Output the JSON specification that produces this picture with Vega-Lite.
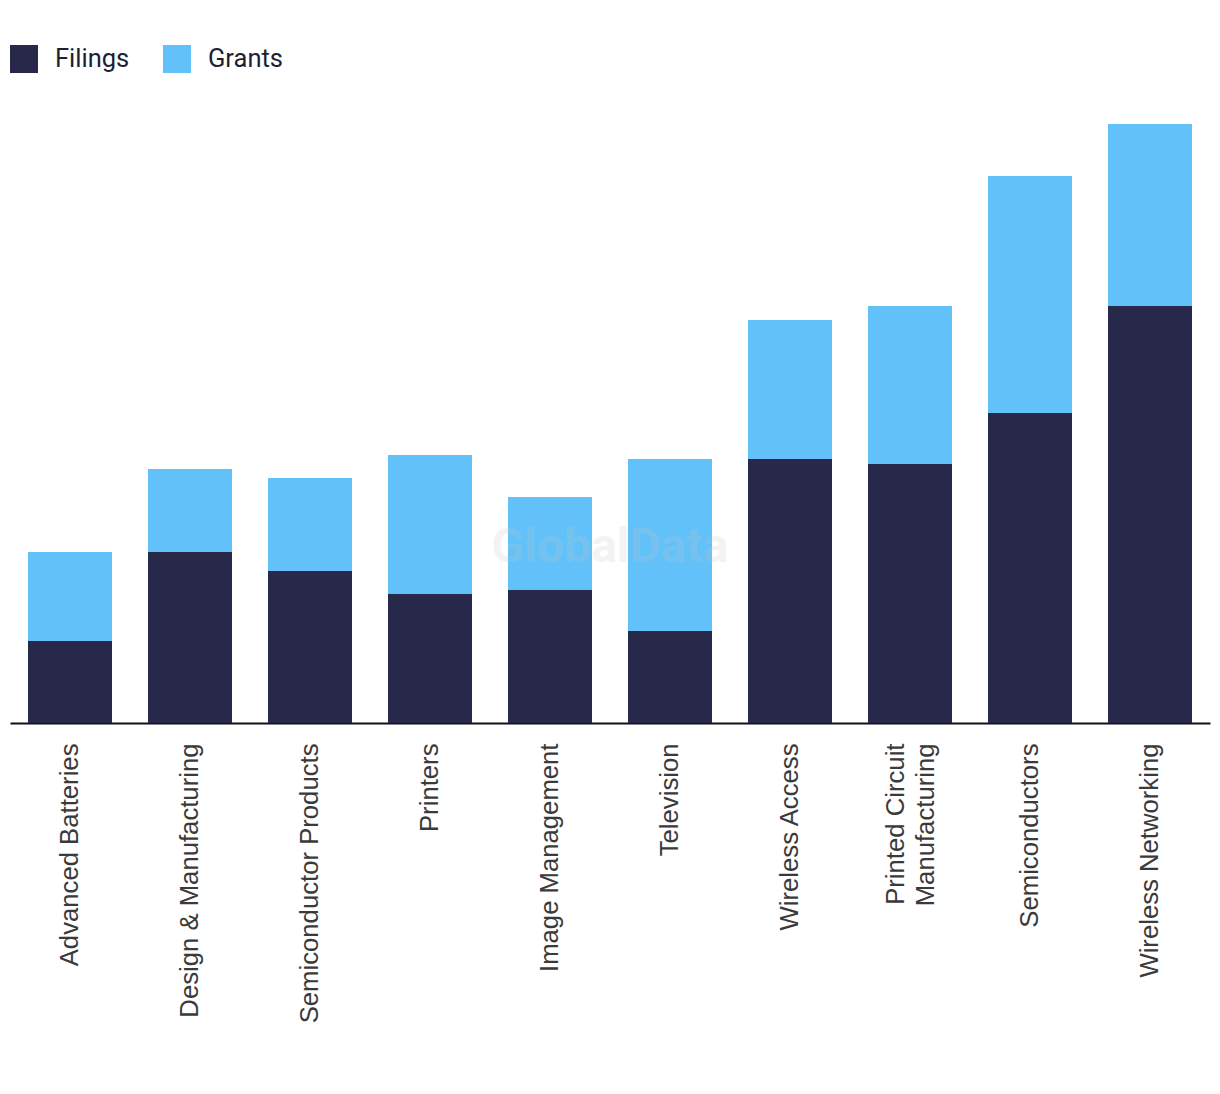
{
  "$schema": "https://vega.github.io/schema/vega-lite/v6.json",
  "width": 1200,
  "height": 600,
  "autosize": "none",
  "padding": {"left": 10, "top": 123, "right": 10, "bottom": 371},
  "background": "white",
  "config": {"view": {"stroke": null}},
  "layer": [
    {
      "data": {
        "values": [
          {"category": "Advanced Batteries", "type": "Filings", "value": 82},
          {"category": "Advanced Batteries", "type": "Grants", "value": 89},
          {"category": "Design & Manufacturing", "type": "Filings", "value": 171},
          {"category": "Design & Manufacturing", "type": "Grants", "value": 83},
          {"category": "Semiconductor Products", "type": "Filings", "value": 152},
          {"category": "Semiconductor Products", "type": "Grants", "value": 93},
          {"category": "Printers", "type": "Filings", "value": 129},
          {"category": "Printers", "type": "Grants", "value": 139},
          {"category": "Image Management", "type": "Filings", "value": 133},
          {"category": "Image Management", "type": "Grants", "value": 93},
          {"category": "Television", "type": "Filings", "value": 92},
          {"category": "Television", "type": "Grants", "value": 172},
          {"category": "Wireless Access", "type": "Filings", "value": 264},
          {"category": "Wireless Access", "type": "Grants", "value": 139},
          {"category": "Printed Circuit Manufacturing", "type": "Filings", "value": 259},
          {"category": "Printed Circuit Manufacturing", "type": "Grants", "value": 158},
          {"category": "Semiconductors", "type": "Filings", "value": 310},
          {"category": "Semiconductors", "type": "Grants", "value": 237},
          {"category": "Wireless Networking", "type": "Filings", "value": 417},
          {"category": "Wireless Networking", "type": "Grants", "value": 182}
        ]
      },
      "mark": {"type": "bar"},
      "encoding": {
        "x": {
          "field": "category",
          "type": "nominal",
          "sort": null,
          "scale": {"paddingInner": 0.3, "paddingOuter": 0.15},
          "axis": {
            "title": null,
            "labelAngle": -90,
            "labelFont": "Liberation Sans",
            "labelFontSize": 25.7,
            "labelColor": "#3a3a3a",
            "labelPadding": 20,
            "labelLineHeight": 30,
            "labelLimit": 500,
            "labelOffset": {"condition": {"test": "datum.value == 'Printed Circuit Manufacturing'", "value": -14}, "value": 0},
            "labelExpr": "datum.label == 'Printed Circuit Manufacturing' ? ['Printed Circuit', 'Manufacturing'] : datum.label",
            "ticks": false,
            "domainColor": "#111111",
            "domainWidth": 2,
            "grid": false
          }
        },
        "y": {
          "field": "value",
          "type": "quantitative",
          "stack": "zero",
          "scale": {"domain": [0, 600], "nice": false},
          "axis": null
        },
        "order": {"field": "type", "sort": "ascending"},
        "color": {
          "field": "type",
          "type": "nominal",
          "scale": {"domain": ["Filings", "Grants"], "range": ["#27284a", "#62c1f9"]},
          "legend": {
            "title": null,
            "orient": "none",
            "legendX": 0,
            "legendY": -78,
            "direction": "horizontal",
            "symbolType": "square",
            "symbolSize": 784,
            "symbolStrokeWidth": 0,
            "symbolOpacity": 1,
            "labelFont": "Roboto",
            "labelFontSize": 25.5,
            "labelColor": "#1e1f33",
            "labelOffset": 17,
            "columnPadding": 33,
            "padding": 0
          }
        }
      }
    },
    {
      "data": {"values": [{"label": "GlobalData"}]},
      "mark": {"type": "text", "font": "Roboto", "fontWeight": "bold", "fontSize": 48, "color": "#c8c8c8", "opacity": 0.2, "align": "center", "baseline": "middle"},
      "encoding": {
        "x": {"datum": "Image Management", "bandPosition": 1.214},
        "y": {"datum": 175},
        "text": {"field": "label"}
      }
    }
  ]
}
